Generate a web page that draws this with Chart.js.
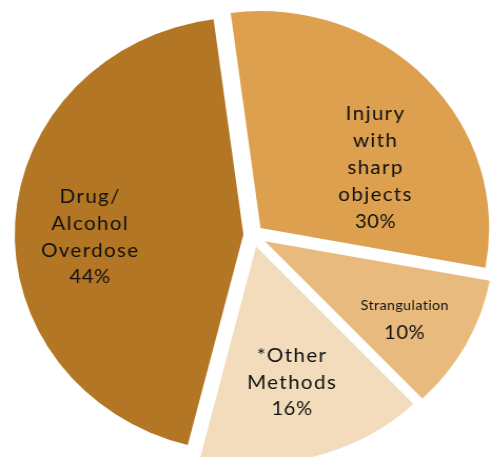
<!DOCTYPE html>
<html>
<head>
<meta charset="utf-8">
<script src="https://cdn.jsdelivr.net/npm/chart.js@4.4.1/dist/chart.umd.min.js"></script>
<style>
  html, body { margin: 0; padding: 0; background: #ffffff; overflow: hidden; }
  #pie { display: block; }
</style>
</head>
<body>
<!-- the drawing buffer is a bit narrower than the box, so the pie comes out slightly wide -->
<canvas id="pie" width="466" height="457" style="width:491px;height:457px"></canvas>
<script>
// ============================================
// Methods pie
// ============================================

// Slices, clockwise from the top
const methodNames = ['Injury with sharp objects', 'Strangulation', '*Other Methods', 'Drug/Alcohol Overdose'];
const methodLines = [['Injury', 'with', 'sharp', 'objects'], ['Strangulation'], ['*Other', 'Methods'], ['Drug/', 'Alcohol', 'Overdose']];
const methodShares = [30, 10, 16, 44];

// Look of each slice
const sliceColors = ['#DDA04F', '#E8BA7D', '#F2DCBC', '#B27624'];
const explodePx = [10, 13, 12, 9];
// label anchor: [fraction along the slice's sweep, fraction of the radius]
const labelAnchors = [[0.635, 0.575], [0.556, 0.71], [0.51, 0.645], [0.473, 0.67]];
const nameFontSizes = [19.5, 13.5, 19.5, 19.5];

// Pull each slice out along its middle angle, then write its label
const explodePlugin = {
    id: 'explodeSlices',
    beforeDatasetDraw(chart, args) {
        args.meta.data.forEach((arc, i) => {
            const mid = (arc.startAngle + arc.endAngle) / 2;
            arc._baseX = arc.x;
            arc._baseY = arc.y;
            arc.x += Math.cos(mid) * explodePx[i];
            arc.y += Math.sin(mid) * explodePx[i];
        });
    },
    afterDatasetDraw(chart, args) {
        const ctx = chart.ctx;
        ctx.save();
        ctx.fillStyle = '#111111';
        ctx.textAlign = 'center';
        ctx.textBaseline = 'middle';
        args.meta.data.forEach((arc, i) => {
            const [sweepFrac, radiusFrac] = labelAnchors[i];
            const angle = arc.startAngle + (arc.endAngle - arc.startAngle) * sweepFrac;
            const r = arc.outerRadius * radiusFrac;
            const cx = arc.x + Math.cos(angle) * r;
            const cy = arc.y + Math.sin(angle) * r;
            const lines = methodLines[i].concat([methodShares[i] + '%']);
            const lineHeight = 26.8;
            lines.forEach((text, j) => {
                const isShare = j === lines.length - 1;
                const size = isShare ? 19 : nameFontSizes[i];
                ctx.font = size + "px Lato, 'Open Sans', sans-serif";
                ctx.letterSpacing = isShare ? '0.6px' : (size < 15 ? '0.4px' : '1.3px');
                ctx.fillText(text, cx, cy + (j - (lines.length - 1) / 2) * lineHeight);
            });
            arc.x = arc._baseX;
            arc.y = arc._baseY;
        });
        ctx.restore();
    }
};

const pieChart = new Chart(document.getElementById('pie'), {
    type: 'pie',
    data: {
        labels: methodNames,
        datasets: [{
            data: methodShares,
            backgroundColor: sliceColors,
            borderWidth: 0,
            clip: false
        }]
    },
    options: {
        responsive: false,
        animation: false,
        events: [],
        rotation: -7.5,
        radius: 217,
        layout: {
            padding: { left: 14, right: 0, top: 13, bottom: 0 }
        },
        plugins: {
            legend: { display: false },
            tooltip: { enabled: false }
        }
    },
    plugins: [explodePlugin]
});
</script>
</body>
</html>
